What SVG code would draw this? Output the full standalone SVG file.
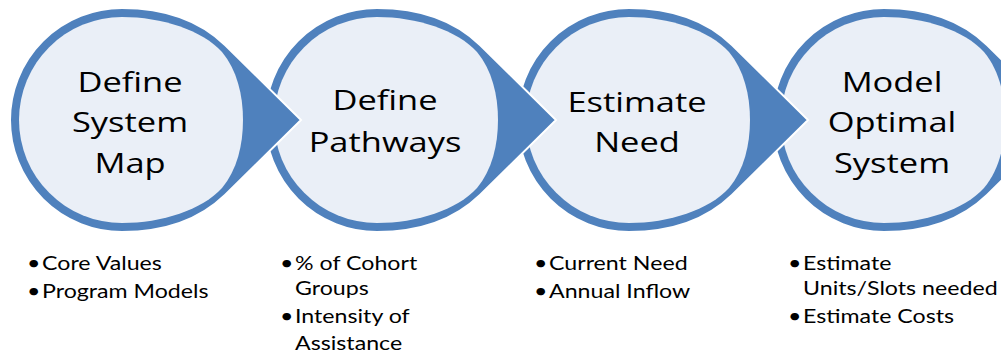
<svg xmlns="http://www.w3.org/2000/svg" width="1001" height="352" viewBox="0 0 1001 352">
  <defs>
    <path id="outer" d="M 0,-112 C 33,-112 73,-104 103,-75 L 179,0 L 103,75 C 73,104 33,112 0,112 A 112 112 0 0 1 0,-112 Z"/>
    <path id="inner" d="M 0,-103 C 40,-103 80,-90 100,-68 C 115,-50 121,-25 121,0 C 121,25 115,50 100,68 C 80,90 40,103 0,103 A 103 103 0 0 1 0,-103 Z"/>
  </defs>
  <style>
    .outer { fill: #4F81BD; stroke: #FFFFFF; stroke-width: 2; }
    .inner { fill: #EAEFF7; }
    .title { font-family: "Open Sans", "DejaVu Sans", sans-serif; font-size: 28px; fill: #000000; text-anchor: middle; }
    .bullet { font-family: "Lato", "Liberation Sans", sans-serif; font-size: 19px; fill: #000000; }
  </style>
  <rect width="1001" height="352" fill="#FFFFFF"/>

  <g id="node4" transform="translate(884,120)">
    <use href="#outer" class="outer"/>
    <use href="#inner" class="inner"/>
    <text class="title" transform="translate(8,-28) scale(1.23,1)">Model</text>
    <text class="title" transform="translate(8,12) scale(1.23,1)">Optimal</text>
    <text class="title" transform="translate(8,53) scale(1.23,1)">System</text>
  </g>
  <g id="node3" transform="translate(629,120)">
    <use href="#outer" class="outer"/>
    <use href="#inner" class="inner"/>
    <text class="title" transform="translate(8,-8) scale(1.23,1)">Estimate</text>
    <text class="title" transform="translate(8,32) scale(1.23,1)">Need</text>
  </g>
  <g id="node2" transform="translate(377,120)">
    <use href="#outer" class="outer"/>
    <use href="#inner" class="inner"/>
    <text class="title" transform="translate(8,-10) scale(1.23,1)">Define</text>
    <text class="title" transform="translate(8,32) scale(1.23,1)">Pathways</text>
  </g>
  <g id="node1" transform="translate(122,120)">
    <use href="#outer" class="outer"/>
    <use href="#inner" class="inner"/>
    <text class="title" transform="translate(8,-28) scale(1.23,1)">Define</text>
    <text class="title" transform="translate(8,12) scale(1.23,1)">System</text>
    <text class="title" transform="translate(8,53) scale(1.23,1)">Map</text>
  </g>

  <g id="connectors"></g>

  <g id="list1" class="bullet">
    <text transform="translate(27,270) scale(1.22,1)">•</text><text transform="translate(42,270) scale(1.22,1)">Core Values</text>
    <text transform="translate(27,298) scale(1.22,1)">•</text><text transform="translate(42,298) scale(1.22,1)">Program Models</text>
  </g>
  <g id="list2" class="bullet">
    <text transform="translate(280,270) scale(1.22,1)">•</text><text transform="translate(295,270) scale(1.22,1)">% of Cohort</text>
    <text transform="translate(295,295) scale(1.22,1)">Groups</text>
    <text transform="translate(280,323) scale(1.22,1)">•</text><text transform="translate(295,323) scale(1.22,1)">Intensity of</text>
    <text transform="translate(295,350) scale(1.22,1)">Assistance</text>
  </g>
  <g id="list3" class="bullet">
    <text transform="translate(534,270) scale(1.22,1)">•</text><text transform="translate(549,270) scale(1.22,1)">Current Need</text>
    <text transform="translate(534,298) scale(1.22,1)">•</text><text transform="translate(549,298) scale(1.22,1)">Annual Inflow</text>
  </g>
  <g id="list4" class="bullet">
    <text transform="translate(788,270) scale(1.22,1)">•</text><text transform="translate(803,270) scale(1.22,1)">Estimate</text>
    <text transform="translate(803,295) scale(1.22,1)">Units/Slots needed</text>
    <text transform="translate(788,323) scale(1.22,1)">•</text><text transform="translate(803,323) scale(1.22,1)">Estimate Costs</text>
  </g>
</svg>
